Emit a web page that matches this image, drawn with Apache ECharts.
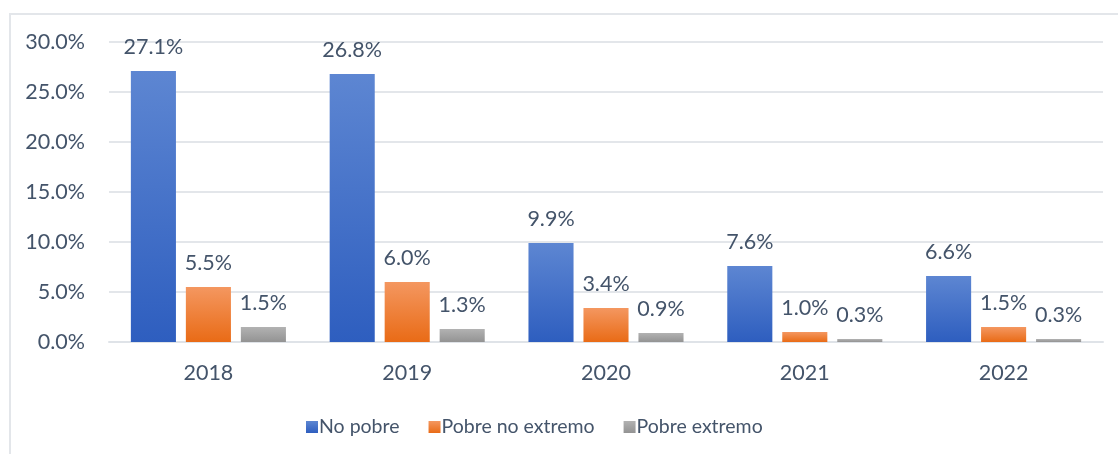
<!DOCTYPE html>
<html>
<head>
<meta charset="utf-8">
<script src="https://cdn.jsdelivr.net/npm/echarts@6/dist/echarts.min.js"></script>
<style>
  html, body { margin: 0; padding: 0; background: #fff; }
  #frame {
    position: absolute; left: 9px; top: 13px; width: 1109px; height: 441px;
    border-top: 2px solid #e3e6ea; border-left: 2px solid #e3e6ea;
  }
  #main { position: absolute; left: 0; top: 0; width: 1118px; height: 454px; }
</style>
</head>
<body>
<div id="frame"></div>
<div id="main"></div>
<script>
  // datos
  const years = ['2018', '2019', '2020', '2021', '2022'];
  const noPobre = [27.1, 26.8, 9.9, 7.6, 6.6];
  const pobreNoExtremo = [5.5, 6.0, 3.4, 1.0, 1.5];
  const pobreExtremo = [1.5, 1.3, 0.9, 0.3, 0.3];
  const seriesNames = ['No pobre', 'Pobre no extremo', 'Pobre extremo'];

  const textColor = '#44546a';
  const font = 'Lato';

  const grad = (top, bottom) => new echarts.graphic.LinearGradient(0, 0, 0, 1, [
    { offset: 0, color: top },
    { offset: 1, color: bottom }
  ]);

  const colors = [
    grad('#5d86d2', '#2e5ebf'),
    grad('#f49760', '#e96b16'),
    grad('#b2b2b2', '#939393')
  ];

  const chart = echarts.init(document.getElementById('main'));

  const makeSeries = (name, data, i) => ({
    name: name,
    type: 'bar',
    data: data,
    barGap: '22%',
    barCategoryGap: '22%',
    itemStyle: { color: colors[i] },
    label: {
      show: true,
      position: 'top',
      distance: 13,
      color: textColor,
      fontFamily: font,
      fontSize: 21.5,
      formatter: p => p.value.toFixed(1) + '%'
    }
  });

  const option = {
    animation: false,
    grid: { left: 109, right: 15, top: 42, bottom: 112 },
    legend: {
      bottom: 12,
      left: 301,
      itemWidth: 12,
      itemHeight: 12,
      itemGap: 29,
      icon: 'rect',
      textStyle: { color: textColor, fontFamily: font, fontSize: 19.5, padding: [0, 0, 0, -4] },
      data: seriesNames.map((n, i) => ({ name: n, itemStyle: { color: colors[i] } }))
    },
    xAxis: {
      type: 'category',
      data: years,
      axisLine: { lineStyle: { color: '#dfe3e8', width: 2 } },
      axisTick: { show: false },
      axisLabel: { color: textColor, fontFamily: font, fontSize: 21.5, margin: 20 }
    },
    yAxis: {
      type: 'value',
      min: 0,
      max: 30,
      interval: 5,
      axisLine: { show: false },
      axisTick: { show: false },
      splitLine: { lineStyle: { color: '#e3e6ea', width: 2 } },
      axisLabel: {
        color: textColor, fontFamily: font, fontSize: 21.5, margin: 24,
        formatter: v => v.toFixed(1) + '%'
      }
    },
    series: [
      makeSeries(seriesNames[0], noPobre, 0),
      makeSeries(seriesNames[1], pobreNoExtremo, 1),
      makeSeries(seriesNames[2], pobreExtremo, 2)
    ]
  };

  chart.setOption(option);
</script>
</body>
</html>
